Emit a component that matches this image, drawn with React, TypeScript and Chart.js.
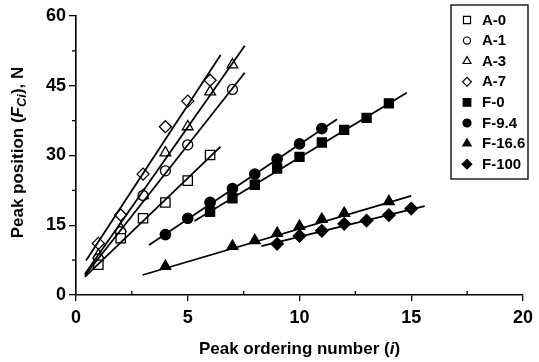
import React, { useEffect, useRef } from "react";
import { Chart, registerables } from "chart.js";
Chart.register(...registerables);

// ---- data ----
const xA0 = [1, 2, 3, 4, 5, 6];
const yA0 = [6.5, 12.2, 16.5, 19.9, 24.6, 30.1];
const xA1 = [1, 2, 3, 4, 5, 7];
const yA1 = [7.8, 13.6, 21.4, 26.7, 32.3, 44.2];
const xA3 = [1, 2, 3, 4, 5, 6, 7];
const yA3 = [8.6, 14.3, 21.4, 30.6, 36.2, 43.7, 49.5];
const xA7 = [1, 2, 3, 4, 5, 6];
const yA7 = [11.1, 17.2, 26.0, 36.2, 41.7, 46.2];
const xF0 = [6, 7, 8, 9, 10, 11, 12, 13, 14];
const yF0 = [17.9, 20.8, 23.7, 27.2, 29.7, 32.8, 35.5, 38.1, 41.2];
const xF94 = [4, 5, 6, 7, 8, 9, 10, 11];
const yF94 = [13.0, 16.5, 19.9, 22.9, 26.0, 29.2, 32.5, 35.8];
const xF166 = [4, 7, 8, 9, 10, 11, 12, 14];
const yF166 = [6.2, 10.5, 11.7, 13.3, 14.8, 16.3, 17.6, 20.1];
const xF100 = [9, 10, 11, 12, 13, 14, 15];
const yF100 = [11.0, 12.7, 13.8, 15.3, 16.0, 17.2, 18.6];

// fitted lines: [x0, y0, x1, y1]
const fitA0 = [0.4, 3.9, 6.47, 31.9];
const fitA1 = [0.4, 4.2, 7.55, 47.8];
const fitA3 = [0.4, 4.5, 7.55, 53.6];
const fitA7 = [0.45, 7.4, 6.47, 51.6];
const fitF0 = [5.3, 15.9, 14.8, 43.5];
const fitF94 = [3.27, 10.75, 11.68, 37.8];
const fitF166 = [2.98, 4.3, 15.0, 21.3];
const fitF100 = [8.29, 10.5, 15.6, 19.1];

const seriesLabels = ["A-0", "A-1", "A-3", "A-7", "F-0", "F-9.4", "F-16.6", "F-100"];
const xTicks = [0, 5, 10, 15, 20];
const yTicks = [0, 15, 30, 45, 60];

const FONT = "'Liberation Sans', Arial, sans-serif";

const pts = (xs: number[], ys: number[]) => xs.map((x, i) => ({ x, y: ys[i] }));
const seg = (f: number[]) => [
  { x: f[0], y: f[1] },
  { x: f[2], y: f[3] },
];

type Sty = { style: string; filled: boolean; r: number; lr: number };
const styles: Sty[] = [
  { style: "rect", filled: false, r: 6.6, lr: 5 },
  { style: "circle", filled: false, r: 5.0, lr: 3.6 },
  { style: "triangle", filled: false, r: 6.2, lr: 4.6 },
  { style: "rectRot", filled: false, r: 6.0, lr: 4.4 },
  { style: "rect", filled: true, r: 6.4, lr: 5.4 },
  { style: "circle", filled: true, r: 5.2, lr: 4.0 },
  { style: "triangle", filled: true, r: 6.2, lr: 4.8 },
  { style: "rectRot", filled: true, r: 6.2, lr: 4.8 },
];

function drawMarker(ctx: CanvasRenderingContext2D, style: string, x: number, y: number, r: number, filled: boolean) {
  ctx.beginPath();
  if (style === "rect") {
    const s = r * Math.SQRT1_2;
    ctx.rect(x - s, y - s, 2 * s, 2 * s);
  } else if (style === "circle") {
    ctx.arc(x, y, r, 0, Math.PI * 2);
  } else if (style === "triangle") {
    ctx.moveTo(x, y - r);
    ctx.lineTo(x + r * 0.866, y + r * 0.5);
    ctx.lineTo(x - r * 0.866, y + r * 0.5);
    ctx.closePath();
  } else {
    ctx.moveTo(x, y - r);
    ctx.lineTo(x + r, y);
    ctx.lineTo(x, y + r);
    ctx.lineTo(x - r, y);
    ctx.closePath();
  }
  ctx.fillStyle = filled ? "#000" : "#fff";
  ctx.fill();
  ctx.stroke();
}

export default function App() {
  const ref = useRef<HTMLCanvasElement | null>(null);

  useEffect(() => {
    if (!ref.current) return;
    const xsList = [xA0, xA1, xA3, xA7, xF0, xF94, xF166, xF100];
    const ysList = [yA0, yA1, yA3, yA7, yF0, yF94, yF166, yF100];
    const fits = [fitA0, fitA1, fitA3, fitA7, fitF0, fitF94, fitF166, fitF100];

    const lineSets = fits.map((f, i) => ({
      label: "fit " + seriesLabels[i],
      data: seg(f),
      showLine: true,
      borderColor: "#000",
      borderWidth: 1.8,
      pointRadius: 0,
      fill: false,
    }));
    const pointSets = seriesLabels.map((lab, i) => ({
      label: lab,
      data: pts(xsList[i], ysList[i]),
      showLine: false,
      pointStyle: styles[i].style,
      pointRadius: styles[i].r,
      pointBackgroundColor: styles[i].filled ? "#000" : "#fff",
      pointBorderColor: "#000",
      pointBorderWidth: 1.3,
    }));

    const extras = {
      id: "extras",
      afterDraw(chart: any) {
        const ctx = chart.ctx as CanvasRenderingContext2D;
        const xs = chart.scales.x;
        const ys = chart.scales.y;
        const ca = chart.chartArea;
        ctx.save();
        ctx.strokeStyle = "#000";
        ctx.lineWidth = 1.3;
        // minor ticks
        for (let v = 2.5; v < 20; v += 5) {
          const px = xs.getPixelForValue(v);
          ctx.beginPath();
          ctx.moveTo(px, ca.bottom);
          ctx.lineTo(px, ca.bottom - 4);
          ctx.stroke();
        }
        for (let v = 7.5; v < 60; v += 15) {
          const py = ys.getPixelForValue(v);
          ctx.beginPath();
          ctx.moveTo(ca.left, py);
          ctx.lineTo(ca.left - 4, py);
          ctx.stroke();
        }
        // x title
        ctx.fillStyle = "#000";
        ctx.textBaseline = "middle";
        const fN = "bold 17px " + FONT;
        const fI = "italic bold 17px " + FONT;
        const parts: [string, string][] = [
          ["Peak ordering number (", fN],
          ["i", fI],
          [")", fN],
        ];
        let w = 0;
        parts.forEach(([t, f]) => {
          ctx.font = f;
          w += ctx.measureText(t).width;
        });
        let cx = (ca.left + ca.right) / 2 - w / 2;
        const ty = 349;
        parts.forEach(([t, f]) => {
          ctx.font = f;
          ctx.textAlign = "left";
          ctx.fillText(t, cx, ty);
          cx += ctx.measureText(t).width;
        });
        // y title (rotated)
        const fS = "italic bold 13px " + FONT;
        const yparts: [string, string, number][] = [
          ["Peak position (", fN, 0],
          ["F", fI, 0],
          ["Ci", fS, 4],
          ["), N", fN, 0],
        ];
        let yw = 0;
        yparts.forEach(([t, f]) => {
          ctx.font = f;
          yw += ctx.measureText(t).width;
        });
        ctx.save();
        ctx.translate(18, (ca.top + ca.bottom) / 2 - 3);
        ctx.rotate(-Math.PI / 2);
        let sx = -yw / 2;
        yparts.forEach(([t, f, dy]) => {
          ctx.font = f;
          ctx.fillText(t, sx, dy);
          sx += ctx.measureText(t).width;
        });
        ctx.restore();
        // legend box
        const bx = 451, by = 5, bw = 77, bh = 174;
        ctx.lineWidth = 1.3;
        ctx.strokeRect(bx, by, bw, bh);
        ctx.font = "bold 15px " + FONT;
        ctx.textAlign = "left";
        ctx.textBaseline = "middle";
        seriesLabels.forEach((lab, i) => {
          const y = by + 15 + i * 20.6;
          const st = styles[i];
          ctx.lineWidth = 1.2;
          ctx.strokeStyle = "#000";
          drawMarker(ctx, st.style, 467, y, st.lr, st.filled);
          ctx.fillStyle = "#000";
          ctx.fillText(lab, 482, y + 0.5);
        });
        ctx.restore();
      },
    };

    const chart = new Chart(ref.current, {
      type: "scatter",
      data: { datasets: [...lineSets, ...pointSets] as any },
      options: {
        responsive: false,
        animation: false,
        events: [],
        layout: { padding: { top: 16, right: 11, left: 0, bottom: 0 } },
        plugins: { legend: { display: false }, tooltip: { enabled: false } },
        scales: {
          x: {
            type: "linear",
            min: 0,
            max: 20,
            afterBuildTicks: (s: any) => {
              s.ticks = xTicks.map((v) => ({ value: v }));
            },
            afterFit: (s: any) => {
              s.height = 67;
            },
            ticks: { color: "#000", font: { family: FONT, size: 18, weight: "bold" }, padding: 6 },
            grid: { drawOnChartArea: false, drawTicks: true, tickLength: 6, color: "#000", lineWidth: 1.3 },
            border: { display: true, color: "#000", width: 1.6 },
          },
          y: {
            type: "linear",
            min: 0,
            max: 60,
            afterBuildTicks: (s: any) => {
              s.ticks = yTicks.map((v) => ({ value: v }));
            },
            afterFit: (s: any) => {
              s.width = 76;
            },
            ticks: { color: "#000", font: { family: FONT, size: 18, weight: "bold" }, padding: 3 },
            grid: { drawOnChartArea: false, drawTicks: true, tickLength: 7, color: "#000", lineWidth: 1.3 },
            border: { display: true, color: "#000", width: 1.6 },
          },
        },
      },
      plugins: [extras],
    });
    return () => chart.destroy();
  }, []);

  return (
    <div style={{ position: "absolute", left: 0, top: 0, width: 539, height: 362, background: "#fff" }}>
      <canvas ref={ref} width={539} height={362} style={{ display: "block" }} />
    </div>
  );
}
